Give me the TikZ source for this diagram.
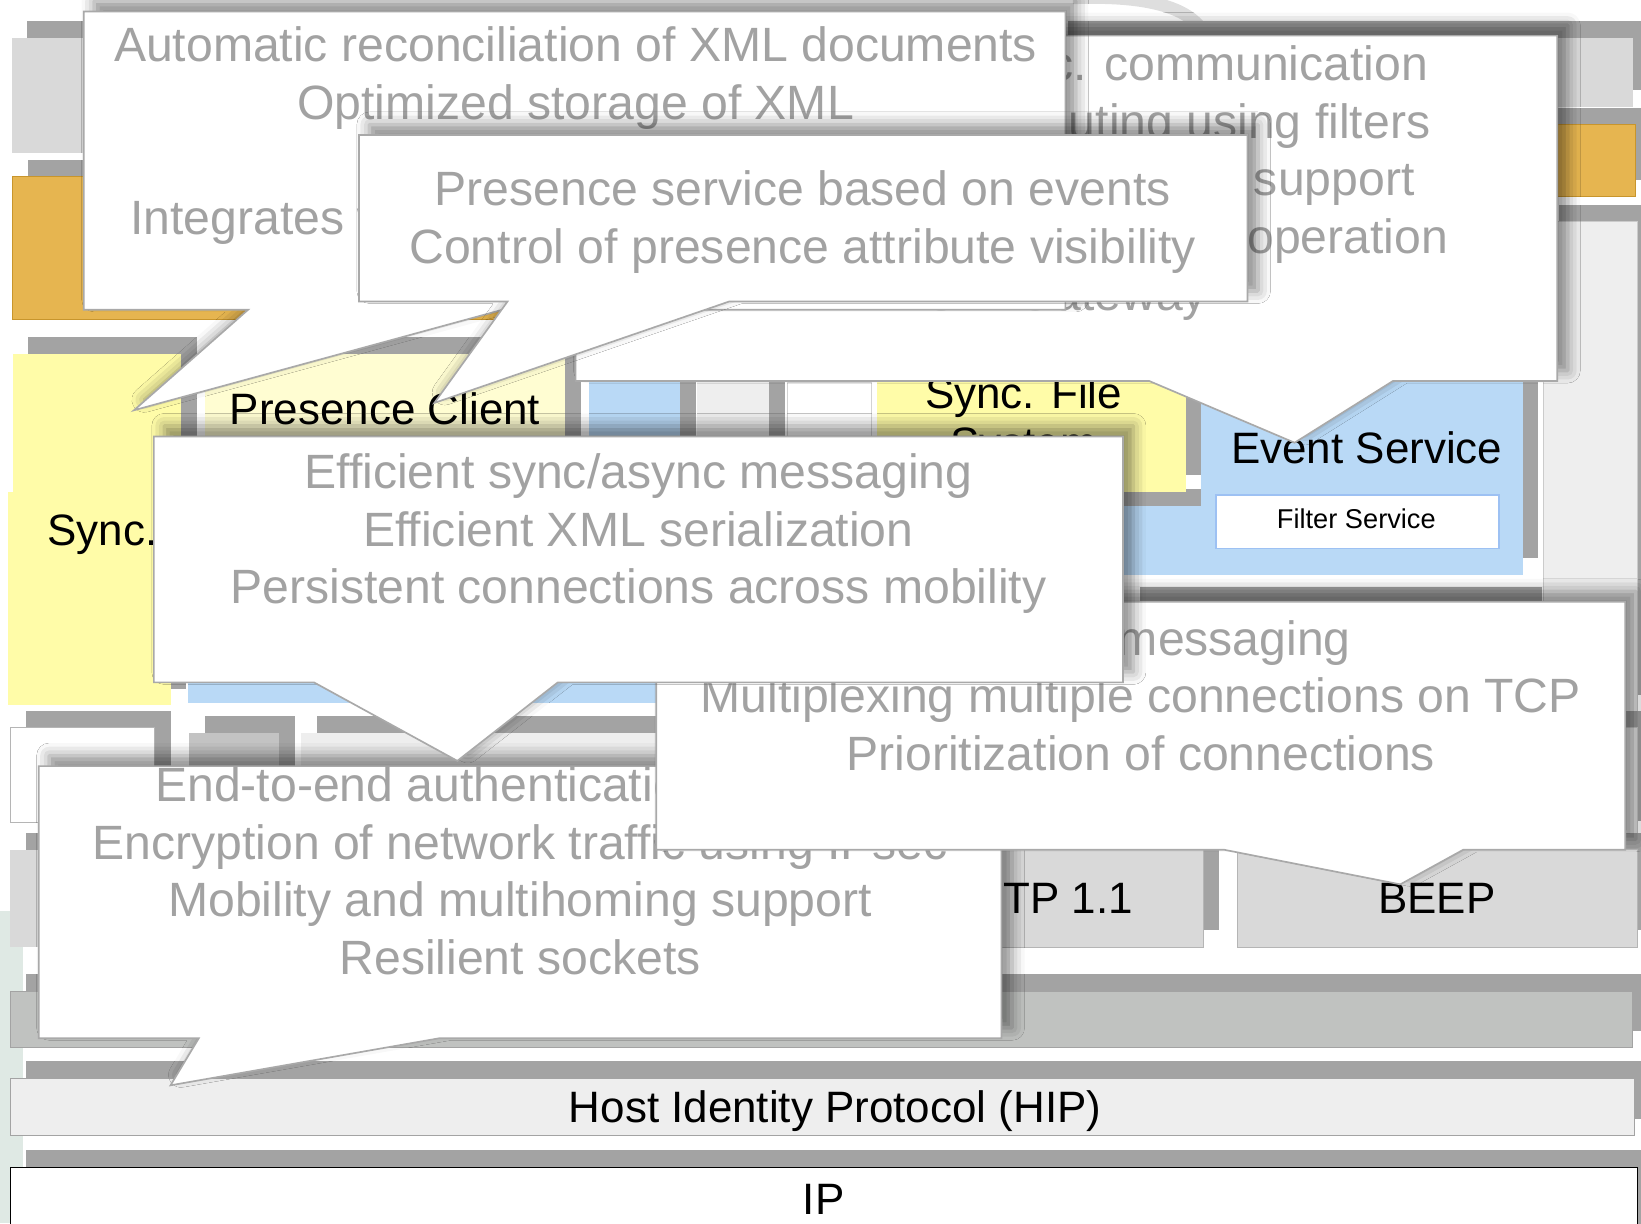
\documentclass[tikz,border=0pt]{standalone}
\usepackage{fontspec}
\setmainfont{Liberation Sans}
\usetikzlibrary{shadows,shadows.blur}

\definecolor{barcol}{HTML}{A3A3A3}
\definecolor{boxgrey}{HTML}{D9D9D9}
\definecolor{lightgrey}{HTML}{EEEEEE}
\definecolor{tcpgrey}{HTML}{C0C2C0}
\definecolor{boxline}{HTML}{B5B5B5}
\definecolor{orangefill}{HTML}{E6B550}
\definecolor{orangeline}{HTML}{C8952C}
\definecolor{syncyellow}{HTML}{FFFCA8}
\definecolor{presyellow}{HTML}{FFFDD2}
\definecolor{blueflll}{HTML}{B9D9F6}
\definecolor{filterline}{HTML}{9DC1F3}
\definecolor{calline}{HTML}{A9A9A9}
\definecolor{caltext}{HTML}{A2A2A2}
\definecolor{wmgreen}{HTML}{DFE9E4}
\definecolor{wmgrey}{HTML}{DEDEDE}

\begin{document}
\begin{tikzpicture}[x=0.5pt,y=-0.5pt,
    layer/.style={drop shadow={shadow xshift=7.5pt,shadow yshift=8pt,fill=barcol,opacity=1}},
    callout/.style={fill=white,draw=calline,line width=0.8pt,
      blur shadow={shadow xshift=5pt,shadow yshift=5pt,shadow blur radius=6pt,shadow opacity=45}},
    ctext/.style={text=caltext,font=\fontsize{23}{27.5}\selectfont,inner sep=0pt},
    label/.style={font=\fontsize{21}{25}\selectfont,inner sep=0pt}]
\useasboundingbox (0,0) rectangle (1568,1169);

% watermark
\fill[wmgreen] (0,870) rectangle (22,1169);
\draw[wmgrey,line width=6pt] (1025,-2) .. controls (1080,-4) and (1125,2) .. (1145,24);

% upper layers
\fill[layer,boxgrey] (11,36) rectangle (300,146);
\fill[layer,boxgrey] (1005,36) rectangle (1560,102);
\draw[layer,fill=orangefill,draw=orangeline] (12,169) rectangle (490,305);
\draw[layer,fill=orangefill,draw=orangeline] (1000,119) rectangle (1563,188);
\draw[layer,fill=lightgrey,draw=boxline!70] (1475,212) rectangle (1565,680);

% applications
\fill[layer,syncyellow] (8,470) rectangle (163,674);
\fill[layer,syncyellow] (12,338) rectangle (173,470);
\fill[layer,presyellow] (196,338) rectangle (540,448);
\fill[layer,blueflll] (180,483) rectangle (1148,549);
\fill[blueflll] (180,540) rectangle (1000,672);
\fill[layer,blueflll] (563,365) rectangle (650,470);
\fill[layer,lightgrey] (666,365) rectangle (735,470);
\draw[fill=white,draw=boxline!60] (752,365) rectangle (833,470);
\fill[layer,syncyellow] (838,365) rectangle (1133,470);
\fill[layer,blueflll] (1148,365) rectangle (1455,549);
\draw[fill=white,draw=filterline,line width=0.8pt] (1162,473) rectangle (1432,524);
\fill[layer,lightgrey] (1074,577) rectangle (1458,650);

% platform row
\draw[layer,fill=white,draw=boxline] (10,695) rectangle (148,786);
\fill[layer,fill=boxgrey!90!black] (181,700) rectangle (267,786);
\fill[layer,lightgrey] (288,700) rectangle (900,786);
\draw[layer,fill=lightgrey,draw=boxline!70] (1475,695) rectangle (1565,800);

% protocols
\fill[layer,boxgrey] (10,812) rectangle (400,905);
\draw[layer,fill=boxgrey,draw=boxline] (840,812) rectangle (1150,905);
\draw[layer,fill=boxgrey,draw=boxline] (1182,812) rectangle (1565,905);
\draw[layer,fill=tcpgrey,draw=barcol] (10,947) rectangle (1560,1001);
\draw[layer,fill=lightgrey,draw=barcol] (10,1030) rectangle (1562,1085);
\draw[layer,fill=white,draw=black] (10,1115) rectangle (1565,1200);

\node[label,anchor=base west] (sync) at (45,521) {Sync.};
\node[label,anchor=base] (presclient) at (368,406) {Presence Client};
\node[label,anchor=base] (syncfile) at (978,390) {Sync. File};
\node[label,anchor=base] (syncsys) at (978,438) {System};
\node[label,anchor=base] (eventsrv) at (1306,443) {Event Service};
\node[font=\fontsize{13}{15}\selectfont,inner sep=0pt,anchor=base] (filtersrv) at (1296,505) {Filter Service};
\node[label,anchor=base east] (http) at (1083,873) {HTTP 1.1};
\node[label,anchor=base] (beep) at (1373,873) {BEEP};
\node[label,anchor=base] (hip) at (798,1073) {Host Identity Protocol (HIP)};
\node[label,anchor=base] (ip) at (787,1160) {IP};

% callout: HIP
\draw[callout] (37,732) -- (957,732) -- (957,992) -- (420,992) -- (163,1037) -- (190,992) -- (37,992) -- cycle;
\node[ctext,anchor=base west] (endtoend) at (148,766) {End-to-end authentication};
\node[ctext,anchor=base] (encrypt) at (497,821) {Encryption of network traffic using IPsec};
\node[ctext,anchor=base] (mobility) at (497,876) {Mobility and multihoming support};
\node[ctext,anchor=base] (resilient) at (497,931) {Resilient sockets};

% callout: BEEP
\draw[callout] (627,575) -- (1553,575) -- (1553,812) -- (1398,812) -- (1338,845) -- (1170,812) -- (627,812) -- cycle;
\node[ctext,anchor=base] (relmsg) at (1090,626) {Reliable messaging};
\node[ctext,anchor=base] (multiplex) at (1090,681) {Multiplexing multiple connections on TCP};
\node[ctext,anchor=base] (prio) at (1090,736) {Prioritization of connections};

% callout: messaging
\draw[callout] (147,417) -- (1073,417) -- (1073,652) -- (533,652) -- (437,727) -- (300,652) -- (147,652) -- cycle;
\node[ctext,anchor=base] (syncmsg) at (610,467) {Efficient sync/async messaging};
\node[ctext,anchor=base] (xmlser) at (610,522) {Efficient XML serialization};
\node[ctext,anchor=base] (persist) at (610,577) {Persistent connections across mobility};

% callout: event service
\draw[callout] (550,34) -- (1488,34) -- (1488,364) -- (1331,364) -- (1237,423) -- (1098,364) -- (550,364) -- cycle;
\node[ctext,anchor=base east] (comm) at (1365,77) {c. communication};
\node[ctext,anchor=base east] (routing) at (1367,132) {uting using filters};
\node[ctext,anchor=base east] (subsupp) at (1352,187) {support};
\node[ctext,anchor=base east] (offline) at (1384,242) {operation};
\node[ctext,anchor=base] (sipgw) at (1019,297) {SIP Gateway};

% callout: sync
\draw[callout] (80,11) -- (1018,11) -- (1018,296) -- (480,296) -- (128,392) -- (237,296) -- (80,296) -- cycle;
\node[ctext,anchor=base] (recon) at (550,59) {Automatic reconciliation of XML documents};
\node[ctext,anchor=base] (xmlstore) at (550,114) {Optimized storage of XML};
\node[ctext,anchor=base west] (integ) at (124,224) {Integrates with};

% callout: presence
\draw[callout] (343,129) -- (1192,129) -- (1192,288) -- (697,288) -- (415,385) -- (485,288) -- (343,288) -- cycle;
\node[ctext,anchor=base] (presserv) at (767,196) {Presence service based on events};
\node[ctext,anchor=base] (presvis) at (767,252) {Control of presence attribute visibility};
\end{tikzpicture}
\end{document}
